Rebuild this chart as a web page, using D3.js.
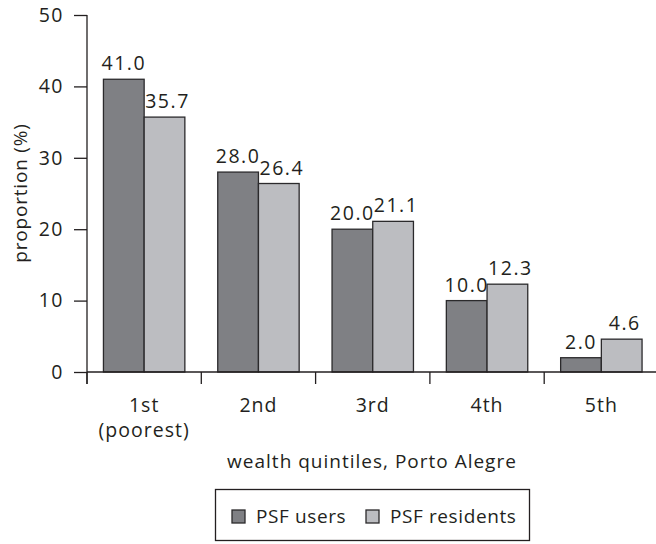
<!DOCTYPE html>
<html>
<head>
<meta charset="utf-8">
<script src="https://cdn.jsdelivr.net/npm/d3@7"></script>
<style>
  html, body { margin: 0; padding: 0; background: #fff; }
  svg { display: block; }
  text { font-family: "Open Sans", "Noto Sans", sans-serif; fill: #231f20; }
</style>
</head>
<body>
<svg id="chart" width="656" height="544"></svg>
<script>
const categories = ["1st", "2nd", "3rd", "4th", "5th"];
const categoryLines = [["1st", "(poorest)"], ["2nd"], ["3rd"], ["4th"], ["5th"]];
const seriesNames = ["PSF users", "PSF residents"];
const psfUsers = [41.0, 28.0, 20.0, 10.0, 2.0];
const psfResidents = [35.7, 26.4, 21.1, 12.3, 4.6];
const yTicks = [0, 10, 20, 30, 40, 50];
const colors = ["#7f8084", "#bcbdc1"];
const xTitle = "wealth quintiles, Porto Alegre";
const yTitle = "proportion (%)";

const seriesValues = [psfUsers, psfResidents];
const rows = categories.map((c, i) => ({
  cat: c,
  vals: seriesNames.map((s, j) => ({ s, j, v: seriesValues[j][i] }))
}));

const svg = d3.select("#chart");
const axisColor = "#231f20";
const x0 = d3.scaleBand().domain(categories).range([87, 658.5]).padding(0);
const x1 = d3.scaleBand().domain(seriesNames).range([0, x0.bandwidth()]).paddingInner(0).paddingOuter(0.404);
const y = d3.scaleLinear().domain([0, 50]).range([372, 15]);

// bars
const g = svg.append("g");
const groups = g.selectAll("g.cat").data(rows).join("g")
  .attr("transform", d => `translate(${x0(d.cat)},0)`);
groups.selectAll("rect").data(d => d.vals).join("rect")
  .attr("x", d => x1(d.s))
  .attr("y", d => y(d.v))
  .attr("width", x1.bandwidth())
  .attr("height", d => y(0) - y(d.v))
  .attr("fill", d => colors[d.j])
  .attr("stroke", "#2b2a2c")
  .attr("stroke-width", 1.3);
groups.selectAll("text.val").data(d => d.vals).join("text")
  .attr("class", "val")
  .attr("x", d => x1(d.s) + x1.bandwidth() / 2 + (d.j === 1 ? 3 : 0))
  .attr("y", d => y(d.v) - 9)
  .attr("text-anchor", "middle")
  .attr("font-size", 19.5)
  .attr("letter-spacing", 1.5)
  .text(d => d.v.toFixed(1));

// y axis
const yAxis = svg.append("g").attr("transform", "translate(87,0)")
  .call(d3.axisLeft(y).tickValues(yTicks).tickSize(13).tickPadding(10).tickFormat(d3.format("d")));
yAxis.select(".domain").remove();
yAxis.selectAll("line").attr("stroke", axisColor).attr("stroke-width", 1.3);
yAxis.selectAll("text").attr("font-size", 19.5).attr("letter-spacing", 1.5)
  .attr("font-family", "Open Sans, Noto Sans, sans-serif").attr("fill", axisColor);
svg.append("line").attr("x1", 87).attr("x2", 87).attr("y1", y(50)).attr("y2", y(0) + 12)
  .attr("stroke", axisColor).attr("stroke-width", 1.3);

// x axis
svg.append("line").attr("x1", 87).attr("x2", 656).attr("y1", y(0)).attr("y2", y(0))
  .attr("stroke", axisColor).attr("stroke-width", 1.3);
const edges = categories.map(c => x0(c)).concat([x0.range()[1]]);
svg.selectAll("line.xt").data(edges).join("line").attr("class", "xt")
  .attr("x1", d => d).attr("x2", d => d).attr("y1", y(0)).attr("y2", y(0) + 12)
  .attr("stroke", axisColor).attr("stroke-width", 1.3);
const xl = svg.selectAll("text.xl").data(categories).join("text").attr("class", "xl")
  .attr("x", d => x0(d) + x0.bandwidth() / 2)
  .attr("y", 412)
  .attr("text-anchor", "middle")
  .attr("font-size", 19.5)
  .attr("letter-spacing", 1);
xl.selectAll("tspan").data((d, i) => categoryLines[i]).join("tspan")
  .attr("x", function () { return d3.select(this.parentNode).attr("x"); })
  .attr("dy", (d, i) => i === 0 ? 0 : 25)
  .text(d => d);

// titles
svg.append("text").attr("x", 372).attr("y", 468).attr("text-anchor", "middle")
  .attr("font-size", 19).attr("letter-spacing", 1).text(xTitle);
svg.append("text").attr("transform", "translate(27,193) rotate(-90)")
  .attr("text-anchor", "middle").attr("font-size", 19).attr("letter-spacing", 0.8).text(yTitle);

// legend
const lg = svg.append("g");
lg.append("rect").attr("x", 215.5).attr("y", 489.5).attr("width", 314).attr("height", 51)
  .attr("fill", "#fff").attr("stroke", axisColor).attr("stroke-width", 1.3);
const legX = [232, 366];
seriesNames.forEach((s, j) => {
  lg.append("rect").attr("x", legX[j]).attr("y", 510).attr("width", 13).attr("height", 13)
    .attr("fill", colors[j]).attr("stroke", "#2b2a2c").attr("stroke-width", 1.3);
  lg.append("text").attr("x", legX[j] + 24).attr("y", 523).attr("font-size", 19)
    .attr("letter-spacing", 0.6).text(s);
});
</script>
</body>
</html>
